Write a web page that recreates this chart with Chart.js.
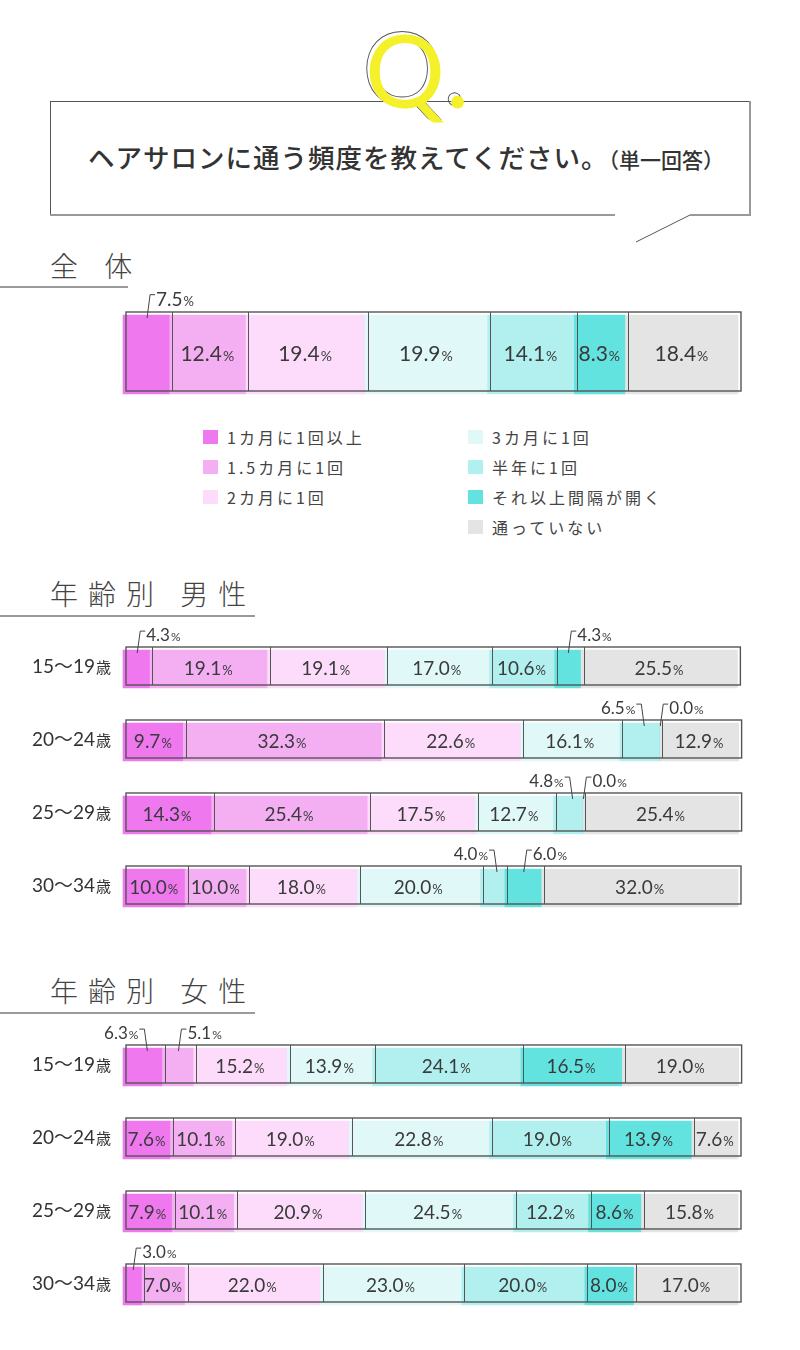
<!DOCTYPE html>
<html lang="ja">
<head>
<meta charset="utf-8">
<script src="https://cdn.jsdelivr.net/npm/chart.js@4.4.1/dist/chart.umd.min.js"></script>
<style>
body { margin: 0; width: 800px; height: 1350px; background: #fff; position: relative; overflow: hidden;
	font-family: "Noto Sans CJK JP", sans-serif; color: #444; }
.abs { position: absolute; }
.question { position: absolute; left: 50px; width: 712px; top: 138px; line-height: 38px; text-align: center;
	font-size: 26.5px; font-weight: 500; letter-spacing: 1px; color: #333; white-space: nowrap; }
.question span { font-size: 21px; letter-spacing: 0; }
.title { position: absolute; left: 50px; font-size: 28px; font-weight: 300; letter-spacing: 10px; line-height: 28px; color: #444; white-space: pre; }
.rule { position: absolute; left: 0; height: 2px; background: #9a9a9a; }
.legend { position: absolute; font-size: 16px; letter-spacing: 3px; line-height: 16px; color: #444; white-space: nowrap; }
.legend i { position: absolute; left: -24px; top: 1px; width: 15px; height: 14px; }
canvas { position: absolute; left: 0; }
</style>
</head>
<body>

<svg class="abs" style="left:0;top:0" width="800" height="250">
	<line x1="50" y1="101.5" x2="750" y2="101.5" stroke="#555" stroke-width="1"/>
	<line x1="50.5" y1="101" x2="50.5" y2="215" stroke="#555" stroke-width="1"/>
	<line x1="750" y1="101" x2="750" y2="216" stroke="#999" stroke-width="2"/>
	<line x1="50" y1="215" x2="615" y2="215" stroke="#999" stroke-width="2"/>
	<line x1="690" y1="215" x2="751" y2="215" stroke="#999" stroke-width="2"/>
	<line x1="690" y1="215" x2="636" y2="242" stroke="#555" stroke-width="1"/>
	<text x="362" y="105" font-family="Lato" font-size="100" fill="none" stroke="#555" stroke-width="0.9">Q<tspan dx="3">.</tspan></text>
	<text x="365" y="108" font-family="Lato" font-size="100" fill="#f4f02a">Q<tspan dx="3">.</tspan></text>
</svg>

<div class="question">ヘアサロンに通う頻度を教えてください。<span>（単一回答）</span></div>

<div class="title" style="top:251px">全 体</div>
<div class="rule" style="top:286px; width:128px"></div>

<div id="legendBox"></div>

<div class="title" style="top:579px">年齢別 男性</div>
<div class="rule" style="top:615px; width:255px"></div>

<div class="title" style="top:976px">年齢別 女性</div>
<div class="rule" style="top:1012px; width:255px"></div>

<canvas id="chartTotal" width="800" height="149" style="top:280px"></canvas>
<canvas id="chartMale" width="800" height="325" style="top:610px"></canvas>
<canvas id="chartFemale" width="800" height="330" style="top:1005px"></canvas>

<script>
let seriesNames = ["1カ月に1回以上", "1.5カ月に1回", "2カ月に1回", "3カ月に1回", "半年に1回", "それ以上間隔が開く", "通っていない"];
let ageGroups = ["15～19", "20～24", "25～29", "30～34"];

let totalAll = [7.5, 12.4, 19.4, 19.9, 14.1, 8.3, 18.4];

let male15to19 = [4.3, 19.1, 19.1, 17.0, 10.6, 4.3, 25.5];
let male20to24 = [9.7, 32.3, 22.6, 16.1, 6.5, 0.0, 12.9];
let male25to29 = [14.3, 25.4, 17.5, 12.7, 4.8, 0.0, 25.4];
let male30to34 = [10.0, 10.0, 18.0, 20.0, 4.0, 6.0, 32.0];

let female15to19 = [6.3, 5.1, 15.2, 13.9, 24.1, 16.5, 19.0];
let female20to24 = [7.6, 10.1, 19.0, 22.8, 19.0, 13.9, 7.6];
let female25to29 = [7.9, 10.1, 20.9, 24.5, 12.2, 8.6, 15.8];
let female30to34 = [3.0, 7.0, 22.0, 23.0, 20.0, 8.0, 17.0];

// styling
let seriesColors = ["#ef78ef", "#f4aef2", "#fcdcfa", "#e0f8f8", "#b2f0f0", "#62e3e0", "#e4e4e4"];
let frameShift = 3;

// labels drawn outside the bar: [row, series, side]
let totalCallouts = [[0, 0, "r"]];
let maleCallouts = [[0, 0, "r"], [0, 5, "r"], [1, 4, "l"], [1, 5, "r"], [2, 4, "l"], [2, 5, "r"], [3, 4, "l"], [3, 5, "r"]];
let femaleCallouts = [[0, 0, "l"], [0, 1, "r"], [3, 0, "r"]];

// legend
let legendBox = document.getElementById("legendBox");
let legendSpots = [[227, 429], [227, 459], [227, 489], [492, 429], [492, 459], [492, 489], [492, 519]];
for (let i = 0; i < seriesNames.length; i++) {
	let item = document.createElement("div");
	item.className = "legend";
	item.style.left = legendSpots[i][0] + "px";
	item.style.top = legendSpots[i][1] + "px";
	item.innerHTML = '<i style="background:' + seriesColors[i] + '"></i>' + seriesNames[i];
	legendBox.appendChild(item);
}

function drawPercent(ctx, x, y, value, numSize, pctSize, align) {
	let num = value.toFixed(1);
	ctx.font = "400 " + numSize + "px Lato";
	let w1 = ctx.measureText(num).width;
	ctx.font = "400 " + pctSize + "px Lato";
	let w2 = ctx.measureText("%").width;
	let total = w1 + 1 + w2;
	let start = x - total / 2;
	if (align == "left") start = x;
	if (align == "right") start = x - total;
	let base = y + numSize * 0.36;
	ctx.fillStyle = "#3a3a3a";
	ctx.textAlign = "left";
	ctx.textBaseline = "alphabetic";
	ctx.font = "400 " + numSize + "px Lato";
	ctx.fillText(num, start, base);
	ctx.font = "400 " + pctSize + "px Lato";
	ctx.fillText("%", start + w1 + 1, base);
}

function drawCallout(ctx, el, value, side, fs) {
	let ax = (el.base + el.x) / 2 + frameShift;
	let top = el.y - el.height / 2 - frameShift;
	let ty = top - fs * 0.7;
	ctx.strokeStyle = "#444";
	ctx.lineWidth = 1;
	ctx.beginPath();
	if (side == "r") {
		ctx.moveTo(ax - 2, top + 6);
		ctx.lineTo(ax + 1, ty - 4);
		ctx.lineTo(ax + 6, ty - 4);
	} else {
		ctx.moveTo(ax + 2, top + 6);
		ctx.lineTo(ax - 1, ty - 4);
		ctx.lineTo(ax - 6, ty - 4);
	}
	ctx.stroke();
	drawPercent(ctx, side == "r" ? ax + 7 : ax - 7, ty, value, fs, Math.round(fs * 0.68), side == "r" ? "left" : "right");
}

let barFrame = {
	id: "barFrame",
	afterDatasetsDraw(chart) {
		let ctx = chart.ctx;
		let metas = chart.data.datasets.map((d, s) => chart.getDatasetMeta(s));
		let rowCount = chart.data.labels.length;
		ctx.save();
		for (let i = 0; i < rowCount; i++) {
			let first = metas[0].data[i];
			let last = metas[metas.length - 1].data[i];
			let top = first.y - first.height / 2 - frameShift;
			let h = first.height;
			let left = first.base + frameShift;
			let right = last.x + frameShift;
			ctx.strokeStyle = "#555";
			ctx.lineWidth = 1;
			for (let s = 0; s < metas.length - 1; s++) {
				let x = Math.round(metas[s].data[i].x + frameShift) + 0.5;
				ctx.beginPath();
				ctx.moveTo(x, top);
				ctx.lineTo(x, top + h);
				ctx.stroke();
			}
			ctx.lineWidth = 1.4;
			ctx.strokeRect(left, top, right - left, h);
		}
		ctx.restore();
	}
};

let barText = {
	id: "barText",
	afterDraw(chart) {
		let ctx = chart.ctx;
		let opts = chart.options.plugins.barText;
		let rows = opts.rows;
		ctx.save();
		for (let i = 0; i < rows.length; i++) {
			for (let s = 0; s < rows[i].length; s++) {
				let el = chart.getDatasetMeta(s).data[i];
				let value = rows[i][s];
				let call = opts.callouts.find(c => c[0] == i && c[1] == s);
				if (call) {
					drawCallout(ctx, el, value, call[2], opts.calloutSize);
				} else if (value > 0) {
					drawPercent(ctx, (el.base + el.x) / 2, el.y - 1, value, opts.numSize, opts.pctSize, "center");
				}
			}
			if (opts.ages) {
				let el = chart.getDatasetMeta(0).data[i];
				let y = el.y - frameShift + 7;
				ctx.fillStyle = "#333";
				ctx.textAlign = "right";
				ctx.textBaseline = "alphabetic";
				ctx.font = "400 15px 'Noto Sans CJK JP'";
				let w = ctx.measureText("歳").width;
				ctx.fillText("歳", 111, y);
				ctx.font = "400 19px Lato, 'Noto Sans CJK JP'";
				ctx.fillText(opts.ages[i], 111 - w - 1, y);
			}
		}
		ctx.restore();
	}
};

function createStackChart(id, labels, rows, thickness, padding, textOpts) {
	let datasets = [];
	for (let s = 0; s < seriesNames.length; s++) {
		datasets.push({
			label: seriesNames[s],
			data: rows.map(r => r[s]),
			backgroundColor: seriesColors[s],
			borderWidth: 0,
			barThickness: thickness,
			clip: false
		});
	}
	textOpts.rows = rows;
	let config = {
		type: "bar",
		data: { labels: labels, datasets: datasets },
		options: {
			indexAxis: "y",
			responsive: false,
			animation: false,
			devicePixelRatio: 1,
			layout: { padding: padding },
			scales: {
				x: { stacked: true, min: 0, max: 100, display: false },
				y: { stacked: true, display: false }
			},
			plugins: {
				legend: { display: false },
				tooltip: { enabled: false },
				barText: textOpts
			}
		},
		plugins: [barFrame, barText]
	};
	return new Chart(document.getElementById(id).getContext("2d"), config);
}

createStackChart("chartTotal", ["全体"], [totalAll], 79,
	{ left: 123, right: 62, top: 20, bottom: 20 },
	{ callouts: totalCallouts, numSize: 21, pctSize: 14, calloutSize: 19 });

createStackChart("chartMale", ageGroups, [male15to19, male20to24, male25to29, male30to34], 38,
	{ left: 123, right: 62, top: 22.5, bottom: 10.5 },
	{ callouts: maleCallouts, numSize: 19, pctSize: 13, calloutSize: 17, ages: ageGroups });

createStackChart("chartFemale", ageGroups, [female15to19, female20to24, female25to29, female30to34], 38,
	{ left: 123, right: 62, top: 25.5, bottom: 12.5 },
	{ callouts: femaleCallouts, numSize: 19, pctSize: 13, calloutSize: 17, ages: ageGroups });
</script>
</body>
</html>
